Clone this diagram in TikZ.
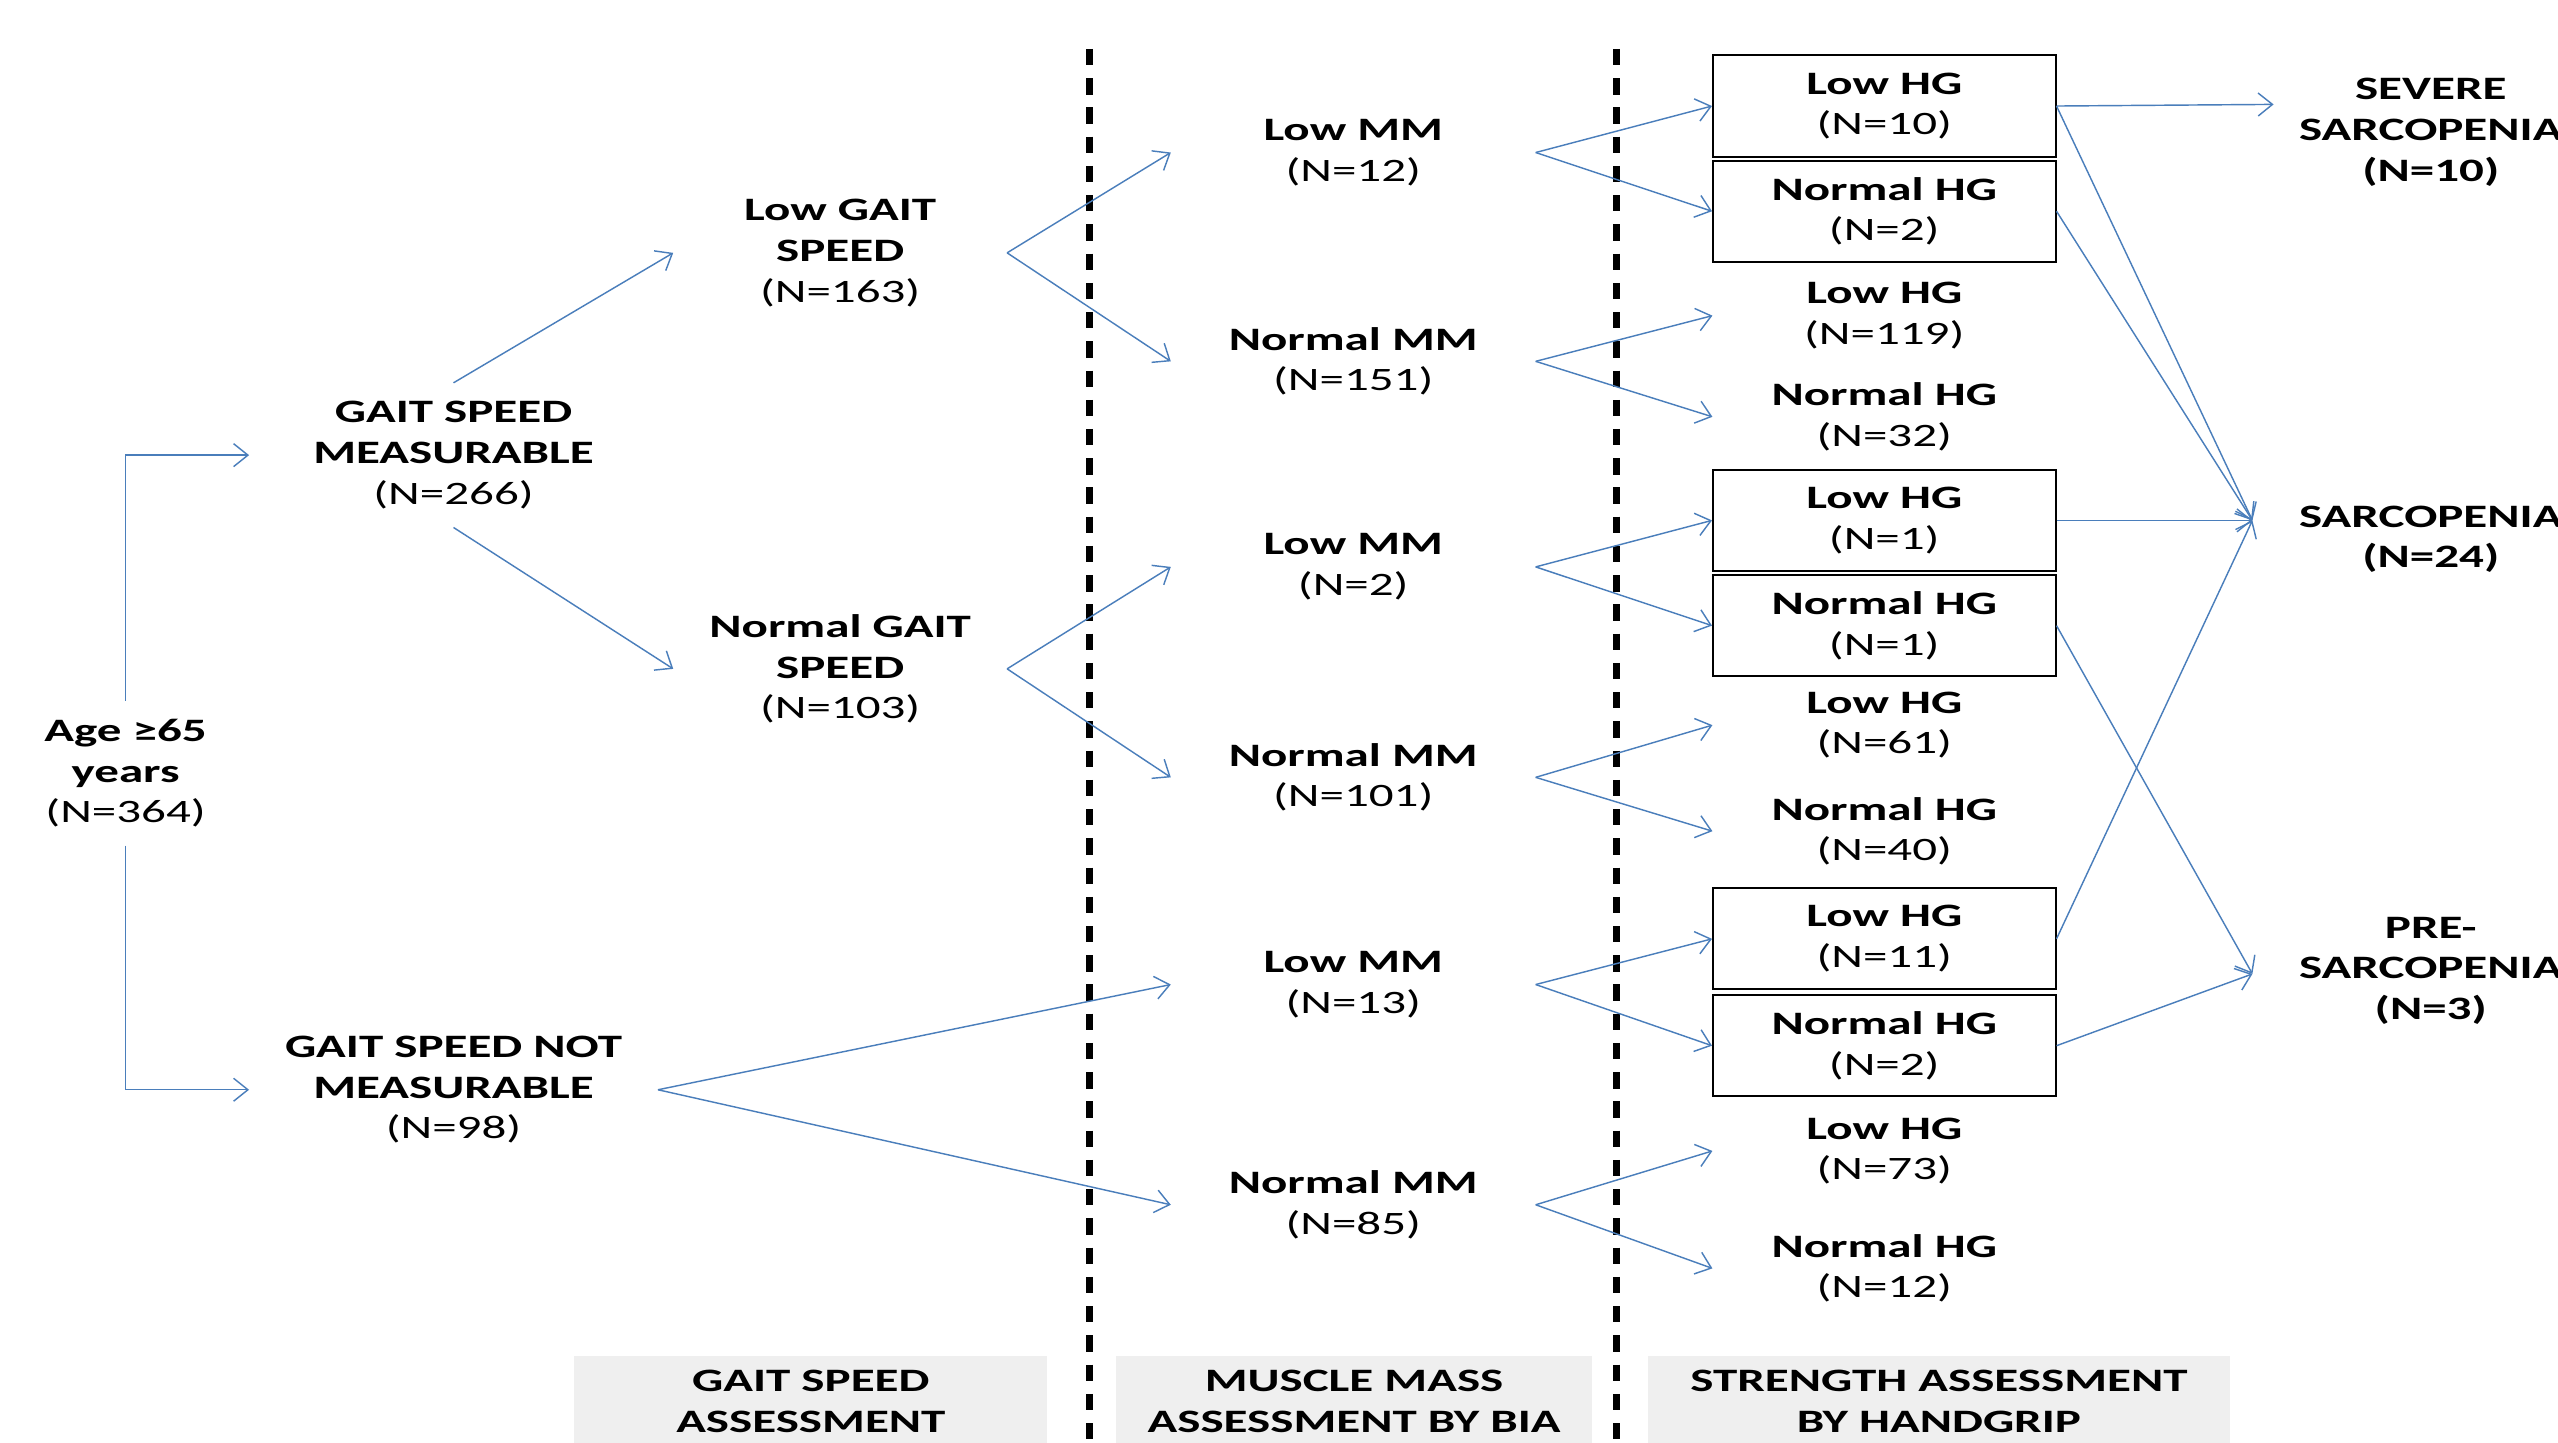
\documentclass[tikz,border=0pt]{standalone}
\usepackage{fontspec}
\setmainfont{Carlito}[FakeStretch=1.5]
\usetikzlibrary{arrows.meta,calc}
\definecolor{arrowblue}{RGB}{74,126,187}
\definecolor{labgray}{RGB}{239,239,239}
\newcommand{\fsz}{\fontsize{11.4pt}{14.2pt}\selectfont}
\tikzset{
  txt/.style={align=center, font=\fsz, inner sep=0pt, minimum height=1.76cm},
  txttwo/.style={align=center, font=\fsz, inner sep=0pt, minimum height=1.24cm},
  hgbox/.style={txttwo, draw=black, line width=0.7pt, minimum width=4.2cm},
  hgfree/.style={txttwo, minimum width=4.2cm},
  mmnode/.style={txttwo, minimum width=4.46cm},
  conn/.style={draw=arrowblue, line width=0.5pt, -{Straight Barb[length=5pt,width=8pt]}},
  dashline/.style={draw=black, line width=2.3pt, dash pattern=on 5.7pt off 4.5pt},
  labbox/.style={fill=labgray, align=center, font=\fsz, inner sep=0pt, minimum height=1.12cm}
}
\begin{document}
\begin{tikzpicture}[x=0.02cm, y=-0.02cm]
\useasboundingbox[fill=white] (0,0) rectangle (1568,884);

% assessment labels
\node[labbox, minimum width=5.8cm] (lab1) at (497,859) {\textbf{GAIT SPEED}\\\textbf{ASSESSMENT}};
\node[labbox, minimum width=5.84cm] (lab2) at (830,859) {\textbf{MUSCLE MASS}\\\textbf{ASSESSMENT BY BIA}};
\node[labbox, minimum width=7.14cm] (lab3) at (1188.5,859) {\textbf{STRENGTH ASSESSMENT}\\\textbf{BY HANDGRIP}};

% dashed separators
\coordinate (d1top) at (668,30);
\coordinate (d1bot) at (668,884);
\coordinate (d2top) at (991,30);
\coordinate (d2bot) at (991,884);
\draw[dashline] (d1top) -- (d1bot);
\draw[dashline] (d2top) -- (d2bot);

% first columns
\node[txt, minimum width=2cm] (age) at (77,474) {\textbf{Age ≥65}\\\textbf{years}\\(N=364)};
\node[txt, minimum width=5cm] (gsm) at (278,279) {\textbf{GAIT SPEED}\\\textbf{MEASURABLE}\\(N=266)};
\node[txt, minimum width=5cm] (gsnm) at (278,668) {\textbf{GAIT SPEED NOT}\\\textbf{MEASURABLE}\\(N=98)};
\node[txt, minimum width=4.08cm] (lgs) at (515,155) {\textbf{Low GAIT}\\\textbf{SPEED}\\(N=163)};
\node[txt, minimum width=4.08cm] (ngs) at (515,410) {\textbf{Normal GAIT}\\\textbf{SPEED}\\(N=103)};

% muscle mass
\node[mmnode] (mm1) at (829.5,93.5) {\textbf{Low MM}\\(N=12)};
\node[mmnode] (mm2) at (829.5,221.5) {\textbf{Normal MM}\\(N=151)};
\node[mmnode] (mm3) at (829.5,347.5) {\textbf{Low MM}\\(N=2)};
\node[mmnode] (mm4) at (829.5,476.5) {\textbf{Normal MM}\\(N=101)};
\node[mmnode] (mm5) at (829.5,603.5) {\textbf{Low MM}\\(N=13)};
\node[mmnode] (mm6) at (829.5,738.5) {\textbf{Normal MM}\\(N=85)};

% handgrip
\node[hgbox] (hg1) at (1155,65) {\textbf{Low HG}\\(N=10)};
\node[hgbox] (hg2) at (1155,129.5) {\textbf{Normal HG}\\(N=2)};
\node[hgfree] (hg3) at (1155,193.5) {\textbf{Low HG}\\(N=119)};
\node[hgfree] (hg4) at (1155,255.5) {\textbf{Normal HG}\\(N=32)};
\node[hgbox] (hg5) at (1155,319) {\textbf{Low HG}\\(N=1)};
\node[hgbox] (hg6) at (1155,383.5) {\textbf{Normal HG}\\(N=1)};
\node[hgfree] (hg7) at (1155,444.5) {\textbf{Low HG}\\(N=61)};
\node[hgfree] (hg8) at (1155,509.5) {\textbf{Normal HG}\\(N=40)};
\node[hgbox] (hg9) at (1155,575.5) {\textbf{Low HG}\\(N=11)};
\node[hgbox] (hg10) at (1155,641) {\textbf{Normal HG}\\(N=2)};
\node[hgfree] (hg11) at (1155,705.5) {\textbf{Low HG}\\(N=73)};
\node[hgfree] (hg12) at (1155,777.5) {\textbf{Normal HG}\\(N=12)};

% outcomes
\node[txt, minimum width=3.84cm] (sev) at (1490,81) {\textbf{SEVERE}\\\textbf{SARCOPENIA}\\\textbf{(N=10)}};
\node[txttwo, minimum width=4.36cm] (sar) at (1490,330.5) {\textbf{SARCOPENIA}\\\textbf{(N=24)}};
\node[txt, minimum width=4.36cm] (pre) at (1490,595) {\textbf{PRE-}\\\textbf{SARCOPENIA}\\\textbf{(N=3)}};

% connectors
\draw[conn] (age.north) |- (gsm.west);
\draw[conn] (age.south) |- (gsnm.west);
\draw[conn] (gsm.north) -- (lgs.west);
\draw[conn] (gsm.south) -- (ngs.west);
\draw[conn] (lgs.east) -- (mm1.west);
\draw[conn] (lgs.east) -- (mm2.west);
\draw[conn] (ngs.east) -- (mm3.west);
\draw[conn] (ngs.east) -- (mm4.west);
\draw[conn] (gsnm.east) -- (mm5.west);
\draw[conn] (gsnm.east) -- (mm6.west);

\draw[conn] (mm1.east) -- (hg1.west);
\draw[conn] (mm1.east) -- (hg2.west);
\draw[conn] (mm2.east) -- (hg3.west);
\draw[conn] (mm2.east) -- (hg4.west);
\draw[conn] (mm3.east) -- (hg5.west);
\draw[conn] (mm3.east) -- (hg6.west);
\draw[conn] (mm4.east) -- (hg7.west);
\draw[conn] (mm4.east) -- (hg8.west);
\draw[conn] (mm5.east) -- (hg9.west);
\draw[conn] (mm5.east) -- (hg10.west);
\draw[conn] (mm6.east) -- (hg11.west);
\draw[conn] (mm6.east) -- (hg12.west);

\draw[conn] (hg1.east) -- ($(sev.west)+(0,-17)$);
\draw[conn] (hg1.east) -- ($(sar.west)+(0,-11.5)$);
\draw[conn] (hg2.east) -- ($(sar.west)+(0,-11.5)$);
\draw[conn] (hg5.east) -- ($(sar.west)+(0,-11.5)$);
\draw[conn] (hg9.east) -- ($(sar.west)+(0,-11.5)$);
\draw[conn] (hg6.east) -- ($(pre.west)+(0,2)$);
\draw[conn] (hg10.east) -- ($(pre.west)+(0,2)$);
\end{tikzpicture}
\end{document}
